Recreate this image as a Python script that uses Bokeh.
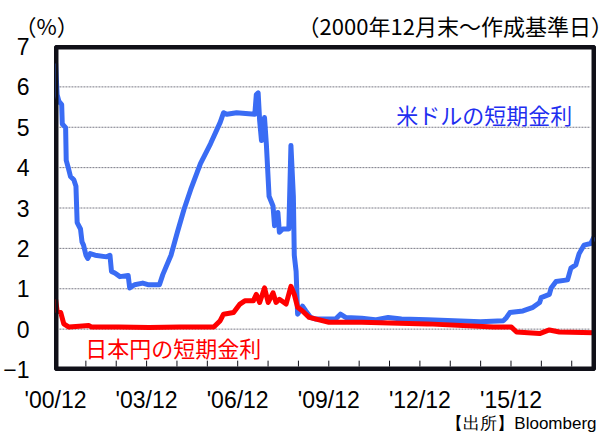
from bokeh.plotting import figure
from bokeh.models import Range1d, FixedTicker, Label
from bokeh.embed import file_html
from bokeh.resources import INLINE

# ---- data (decimal years, % values) ----
usd_t = [2000.92, 2000.97, 2001.03, 2001.12, 2001.14, 2001.25, 2001.27, 2001.33, 2001.41,
         2001.52, 2001.59, 2001.63, 2001.74, 2001.79, 2001.84, 2001.92, 2001.98, 2002.06,
         2002.22, 2002.60, 2002.71, 2002.76, 2002.87, 2003.04, 2003.31, 2003.36, 2003.52,
         2003.79, 2003.96, 2004.34, 2004.45, 2004.72, 2004.93, 2005.15, 2005.37, 2005.69,
         2006.02, 2006.34, 2006.45, 2006.56, 2006.88, 2007.48, 2007.53, 2007.59, 2007.64,
         2007.70, 2007.80, 2007.86, 2007.95, 2008.08, 2008.13, 2008.24, 2008.29, 2008.40,
         2008.60, 2008.67, 2008.75, 2008.78, 2008.84, 2008.89, 2008.96, 2009.05, 2009.16,
         2009.32, 2009.49, 2010.14, 2010.30, 2010.47, 2011.00, 2011.44, 2011.87, 2012.31,
         2013.17, 2014.04, 2014.91, 2015.67, 2015.77, 2015.88, 2016.31, 2016.64, 2016.86,
         2016.91, 2017.18, 2017.24, 2017.40, 2017.78, 2017.89, 2018.05, 2018.16, 2018.32,
         2018.54, 2018.65]
usd_v = [6.58, 5.81, 5.64, 5.56, 5.08, 4.99, 4.18, 4.02, 3.78,
         3.70, 3.54, 2.64, 2.48, 2.16, 2.08, 1.83, 1.75, 1.87,
         1.83, 1.79, 1.83, 1.43, 1.39, 1.30, 1.33, 1.02, 1.10,
         1.14, 1.10, 1.10, 1.35, 1.83, 2.40, 2.97, 3.46, 4.10,
         4.59, 5.12, 5.36, 5.32, 5.36, 5.32, 5.81, 5.85, 5.16,
         4.67, 5.24, 4.59, 3.29, 3.05, 2.56, 2.89, 2.40, 2.48,
         2.48, 4.55, 3.29, 1.83, 1.43, 0.37, 0.45, 0.57, 0.45,
         0.29, 0.25, 0.25, 0.37, 0.29, 0.27, 0.23, 0.29, 0.25,
         0.23, 0.21, 0.18, 0.21, 0.29, 0.41, 0.45, 0.54, 0.66,
         0.78, 0.86, 1.02, 1.18, 1.22, 1.51, 1.59, 1.87, 2.08,
         2.12, 2.28]

jpy_t = [2000.92, 2000.97, 2001.09, 2001.19, 2001.36, 2001.70, 2002.01, 2002.11, 2003.00,
         2004.00, 2005.00, 2006.13, 2006.34, 2006.45, 2006.78, 2006.99, 2007.15, 2007.43,
         2007.53, 2007.64, 2007.80, 2007.92, 2008.08, 2008.18, 2008.29, 2008.51, 2008.67,
         2008.78, 2008.89, 2009.05, 2009.27, 2009.92, 2011.00, 2013.17, 2015.34, 2015.93,
         2016.10, 2016.86, 2017.18, 2017.51, 2018.65]
jpy_v = [0.74, 0.45, 0.41, 0.13, 0.05, 0.07, 0.09, 0.05, 0.05,
         0.04, 0.05, 0.05, 0.21, 0.37, 0.41, 0.62, 0.70, 0.70,
         0.86, 0.66, 1.02, 0.66, 0.90, 0.66, 0.74, 0.62, 1.06,
         0.86, 0.54, 0.45, 0.29, 0.17, 0.17, 0.13, 0.05, 0.05,
         -0.07, -0.11, -0.02, -0.07, -0.09]

tick_labels = ["'00/12", "'03/12", "'06/12", "'09/12", "'12/12", "'15/12"]
y_ticks = [-1, 0, 1, 2, 3, 4, 5, 6, 7]

START = 2000 + 11 / 12  # Dec 2000
X_END = 213.0           # months after Dec 2000 at the right edge


def to_m(t):
    return (t - START) * 12


usd_x = [to_m(t) for t in usd_t]
jpy_x = [to_m(t) for t in jpy_t]

JP = "Noto Sans CJK JP"
NUM = "Liberation Sans"
FRAME_C = "#101018"
GRID_C = "#7a7a86"

FW, FH = 546, 329  # approximate frame size in px
p = figure(width=599, height=439, output_backend="svg", toolbar_location=None,
           x_range=Range1d(0.0, X_END), y_range=Range1d(float(y_ticks[0]), float(y_ticks[-1])),
           min_border_left=48, min_border_right=5, min_border_top=40, min_border_bottom=70)
p.background_fill_color = "white"
p.border_fill_color = "white"
p.outline_line_color = FRAME_C
p.outline_line_width = 3
p.xgrid.grid_line_color = None
p.ygrid.grid_line_color = None

PX = X_END / FW                                     # one pixel in x data units
PY = float(y_ticks[-1] - y_ticks[0]) / FH           # one pixel in y data units

# header as the plot title
p.title.text = "（%）" + "\u3000" * 10 + "\u00a0\u00a0" + "（2000年12月末～作成基準日）"
p.title.align = "left"
p.title.offset = -41
p.title.standoff = 12
p.title.text_font = JP
p.title.text_font_size = "22px"
p.title.text_font_style = "normal"
p.title.text_color = "black"

p.yaxis.ticker = FixedTicker(ticks=y_ticks)
p.yaxis.major_label_overrides = {-1: "\u22121"}
p.yaxis.axis_line_color = None
p.yaxis.major_tick_line_color = None
p.yaxis.minor_tick_line_color = None
p.yaxis.major_tick_out = 0
p.yaxis.minor_tick_out = 0
p.yaxis.major_label_text_font = NUM
p.yaxis.major_label_text_font_size = "23px"
p.yaxis.major_label_text_color = "black"
p.yaxis.major_label_standoff = 26

xt = [i * 36 for i in range(len(tick_labels))]
year_ticks = [float(i * 12) for i in range(1, 18)]
p.xaxis.ticker = FixedTicker(ticks=xt)
p.xaxis.major_label_overrides = {x: lab for x, lab in zip(xt, tick_labels)}
p.xaxis.axis_line_color = None
p.xaxis.major_tick_line_color = None
p.xaxis.minor_tick_line_color = None
p.xaxis.major_tick_in = 0
p.xaxis.major_tick_out = 0
p.xaxis.minor_tick_in = 0
p.xaxis.minor_tick_out = 0
p.xaxis.major_label_text_font = NUM
p.xaxis.major_label_text_font_size = "23px"
p.xaxis.major_label_text_color = "black"
p.xaxis.major_label_standoff = 17

# source note as the x axis label (padded so that it ends near the right edge)
ax = p.xaxis[0]
ax.axis_label = "\u3000" * 22 + "\u00a0" * 4 + "【出所】Bloomberg"
ax.axis_label_standoff = -2
ax.axis_label_text_font = NUM
ax.axis_label_text_font_size = "17px"
ax.axis_label_text_font_style = "normal"
ax.axis_label_text_color = "black"

y0, y1 = float(y_ticks[0]), float(y_ticks[-1])

# dotted grid lines at the y ticks
grid_y = [float(v) for v in y_ticks[1:-1]]
p.multi_line(xs=[[4 * PX, X_END - 4 * PX] for _ in grid_y], ys=[[v, v] for v in grid_y],
             line_color=GRID_C, line_width=1, line_dash="2 1", line_join="round")

# yearly tick marks pointing up from the bottom edge
p.multi_line(xs=[[t, t] for t in year_ticks],
             ys=[[y0 + 3 * PY, y0 + 9 * PY] for _ in year_ticks],
             line_color=FRAME_C, line_width=1, line_join="round")

p.line(usd_x, usd_v, line_color="#3a6cf4", line_width=5, line_join="round")
p.line(jpy_x, jpy_v, line_color="#ff0000", line_width=5, line_join="round")

# black frame drawn just inside the plotting area
fx = [1.5 * PX, X_END - 1.5 * PX, X_END - 1.5 * PX, 1.5 * PX, 1.5 * PX]
fy = [y0 + 1.5 * PY, y0 + 1.5 * PY, y1 - 1.5 * PY, y1 - 1.5 * PY, y0 + 1.5 * PY]
p.line(fx, fy, line_color=FRAME_C, line_width=3, line_join="round")

p.add_layout(Label(x=134.7, y=5.32, text="米ドルの短期金利", text_font=JP,
                   text_font_size="22px", text_color="#1f2ff0",
                   text_baseline="middle", text_align="left"))
p.add_layout(Label(x=11.8, y=-0.44, text="日本円の短期金利", text_font=JP,
                   text_font_size="22px", text_color="#ff0000",
                   text_baseline="middle", text_align="left"))

open("out.html", "w").write(file_html(p, INLINE))
